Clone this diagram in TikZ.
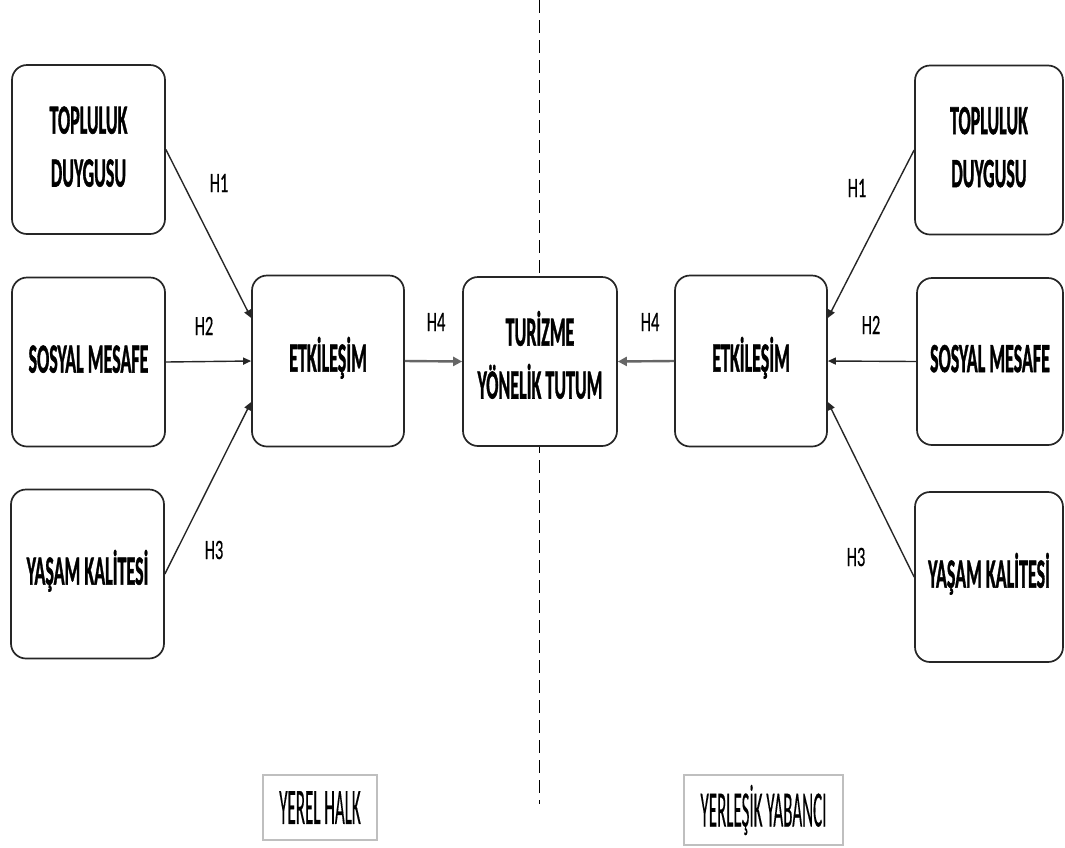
\documentclass[tikz,border=0pt]{standalone}
\usepackage{fontspec}
\usepackage{graphicx}
\setmainfont{Carlito}
\newfontfamily\bxfont{Carlito}[BoldFeatures={FakeBold=1.5}]
\newfontfamily\lbfont{Carlito}[FakeBold=0.5]
\usetikzlibrary{arrows.meta}
\newcommand\bxt[1]{\scalebox{1}[2.3]{\fontsize{18}{23}\bxfont\bfseries\begin{tabular}{@{}c@{}}#1\end{tabular}}}
\newcommand\hlab[1]{\scalebox{1}[1.7]{\fontsize{16.5}{16.5}\lbfont #1}}
\newcommand\blab[1]{\scalebox{1}[3.0]{\fontsize{17}{17}\lbfont #1}}
\tikzset{
  cbox/.style={draw=black!85, line width=1.7pt, rounded corners=15pt, fill=white,
    minimum width=153pt, minimum height=169pt, inner sep=0pt, align=center},
  gbox/.style={draw=black!25, line width=1.8pt, fill=white, inner sep=0pt},
  hyp/.style={-{Triangle[length=8pt,width=7pt]}, line width=1.4pt, draw=black!85},
  hypfour/.style={-{Triangle[length=9pt,width=9pt]}, line width=2.4pt, draw=black!60},
  lab/.style={inner sep=0pt},
  divider/.style={dash pattern=on 13pt off 7pt, line width=0.9pt}
}
\begin{document}
\begin{tikzpicture}[x=1pt,y=-1pt]
\useasboundingbox (0,0) rectangle (1065,847);
\coordinate (dtop) at (539,0);
\coordinate (dbot) at (539,804);
\draw[divider] (dtop) -- (dbot);

% left column
\node[cbox] (ltd) at (88.5,149.5) {\bxt{TOPLULUK\\DUYGUSU}};
\node[cbox] (lsm) at (88.5,362) {\bxt{SOSYAL MESAFE}};
\node[cbox] (lyk) at (87.5,574) {\bxt{YAŞAM KALİTESİ}};
\node[cbox, minimum width=152pt, minimum height=171pt] (let) at (328,361) {\bxt{ETKİLEŞİM}};
% center
\node[cbox, minimum width=154pt] (tur) at (540,361.5) {\bxt{TURİZME\\YÖNELİK TUTUM}};
% right
\node[cbox, minimum width=152pt, minimum height=171pt] (ret) at (751,361) {\bxt{ETKİLEŞİM}};
\node[cbox, minimum width=148pt] (rtd) at (989,150) {\bxt{TOPLULUK\\DUYGUSU}};
\node[cbox, minimum width=146pt, minimum height=167pt] (rsm) at (990,361.5) {\bxt{SOSYAL MESAFE}};
\node[cbox, minimum width=148pt, minimum height=170pt] (ryk) at (989,577) {\bxt{YAŞAM KALİTESİ}};

% connectors
\draw[hyp] (ltd.east) -- ([yshift=43pt]let.west);
\draw[hyp] (lsm.east) -- (let.west);
\draw[hyp] (lyk.east) -- ([yshift=-41pt]let.west);
\draw[hypfour] (let.east) -- (tur.west);
\draw[hypfour] (ret.west) -- (tur.east);
\draw[hyp] (rtd.west) -- ([yshift=43pt]ret.east);
\draw[hyp] (rsm.west) -- (ret.east);
\draw[hyp] (ryk.west) -- ([yshift=-41pt]ret.east);

% labels
\node[lab] (h1l) at (219,183) {\hlab{H1}};
\node[lab] (h2l) at (204,326) {\hlab{H2}};
\node[lab] (h3l) at (214,550) {\hlab{H3}};
\node[lab] (h4l) at (436,322) {\hlab{H4}};
\node[lab] (h4r) at (650,322) {\hlab{H4}};
\node[lab] (h1r) at (857,188) {\hlab{H1}};
\node[lab] (h2r) at (871,325) {\hlab{H2}};
\node[lab] (h3r) at (856,557) {\hlab{H3}};

% group labels
\node[gbox, minimum width=114pt, minimum height=65pt] (yerel) at (320,807.5) {\blab{YEREL HALK}};
\node[gbox, minimum width=159pt, minimum height=70pt] (yabanci) at (763.5,810) {\blab{YERLEŞİK YABANCI}};
\end{tikzpicture}
\end{document}
